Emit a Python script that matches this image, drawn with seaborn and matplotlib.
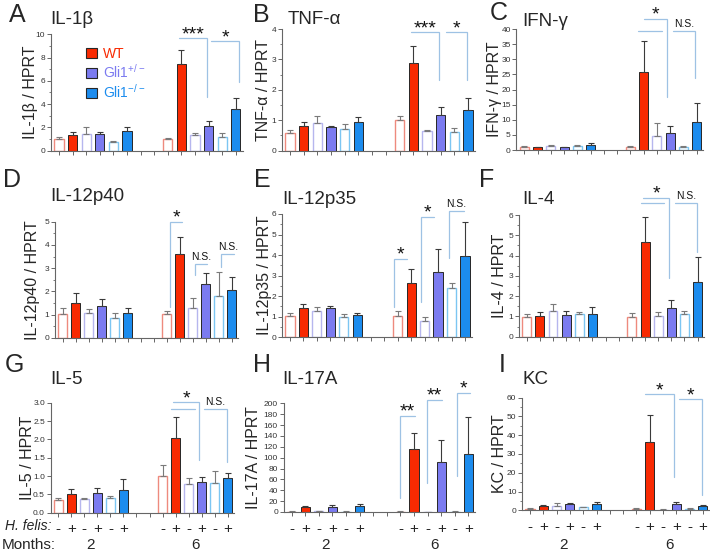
import numpy as np
import pandas as pd
import matplotlib
matplotlib.use('Agg')
import matplotlib.pyplot as plt
import matplotlib.transforms as mtransforms
from matplotlib.patches import Patch
from matplotlib.ticker import MultipleLocator, FormatStrFormatter
import seaborn as sns

sns.set_style('ticks')
plt.rcParams['font.family'] = ['Liberation Sans', 'DejaVu Sans']
plt.rcParams['mathtext.default'] = 'regular'

W, H = 710, 554

# ---------------- data ----------------
genotypes = ['WT', 'WT', 'Gli1+/-', 'Gli1+/-', 'Gli1-/-', 'Gli1-/-'] * 2
felis = ['-', '+'] * 6
months = [2] * 6 + [6] * 6
positions = [0, 1, 2, 3, 4, 5, 8, 9, 10, 11, 12, 13]
tick_positions = list(range(14))
felis_tick_labels = ['-', '+', '-', '+', '-', '+', '', '', '-', '+', '-', '+', '-', '+']
month_labels = ['2', '6']

il1b_mean = [0.97, 1.35, 1.40, 1.43, 0.77, 1.69, 0.97, 7.45, 1.32, 2.15, 1.15, 3.55]
il1b_err = [0.23, 0.23, 0.66, 0.20, 0.09, 0.37, 0.15, 1.20, 0.17, 0.43, 0.34, 0.95]

tnfa_mean = [0.59, 0.82, 0.92, 0.79, 0.70, 0.94, 1.01, 2.87, 0.65, 1.17, 0.61, 1.34]
tnfa_err = [0.09, 0.13, 0.23, 0.03, 0.17, 0.18, 0.14, 0.57, 0.03, 0.28, 0.12, 0.38]

ifng_mean = [1.1, 0.9, 1.3, 0.9, 1.3, 1.5, 1.1, 25.7, 4.7, 5.5, 1.0, 9.4]
ifng_err = [0.3, 0.2, 0.2, 0.1, 0.2, 0.7, 0.2, 10.4, 4.1, 2.5, 0.3, 6.2]

il12p40_mean = [1.02, 1.51, 1.05, 1.36, 0.83, 1.05, 1.02, 3.62, 1.29, 2.30, 1.81, 2.05]
il12p40_err = [0.24, 0.43, 0.17, 0.29, 0.22, 0.21, 0.13, 0.70, 0.41, 0.50, 1.03, 0.55]

il12p35_mean = [1.04, 1.44, 1.28, 1.41, 1.00, 1.09, 1.04, 2.63, 0.81, 3.19, 2.38, 3.95]
il12p35_err = [0.13, 0.18, 0.18, 0.11, 0.12, 0.11, 0.24, 0.68, 0.16, 1.09, 0.25, 1.67]

il4_mean = [0.99, 1.02, 1.28, 1.07, 1.10, 1.10, 0.99, 4.69, 1.02, 1.40, 1.10, 2.71]
il4_err = [0.11, 0.18, 0.32, 0.21, 0.13, 0.38, 0.16, 1.23, 0.18, 0.41, 0.17, 1.20]

il5_mean = [0.35, 0.51, 0.37, 0.55, 0.41, 0.62, 1.00, 2.05, 0.77, 0.83, 0.80, 0.95]
il5_err = [0.04, 0.13, 0.04, 0.13, 0.05, 0.29, 0.29, 0.55, 0.17, 0.15, 0.34, 0.12]

il17a_mean = [0.5, 8.6, 1.2, 9.2, 0.7, 11.0, 0.8, 116.0, 0.5, 91.4, 0.7, 107.0]
il17a_err = [0.5, 2.4, 0.3, 3.7, 0.3, 3.0, 0.2, 30.0, 0.3, 41.0, 0.3, 67.0]

kc_mean = [0.7, 2.5, 2.5, 3.2, 1.6, 3.4, 0.7, 36.6, 0.3, 3.6, 0.7, 2.3]
kc_err = [0.4, 0.3, 1.2, 0.5, 0.4, 0.9, 0.4, 14.4, 0.2, 1.0, 0.5, 0.4]

# ---------------- styles ----------------
dark_pal = {'WT': '#F82A02', 'Gli1+/-': '#7B7BF0', 'Gli1-/-': '#1C8CEE'}
light_pal = {'WT': '#EE8A7E', 'Gli1+/-': '#B6B6EE', 'Gli1-/-': '#7CC6F2'}
legend_text_col = {'WT': '#F82A02', 'Gli1+/-': '#7B7BF0', 'Gli1-/-': '#1C8CEE'}
bracket_col = '#9EC2E4'
XLIM = (-0.6, 13.5)


def box(l, t, r, b):
    return [l / W, 1 - b / H, (r - l) / W, (b - t) / H]


panels = [
    dict(letter='A', title='IL-1β', ylabel='IL-1β / HPRT', mean=il1b_mean, err=il1b_err,
         ymax=10, major=2, minor=1, fmt='%d', bx=(50.8, 34.3, 242.6, 150.7),
         letter_xy=(17, 15), title_xy=(50, 20), ylab_x=30,
         brackets=[(8.8, 10.9, 9.64, 9.64, 4.64, '***'), (11.2, 13.25, 9.4, 9.4, 5.9, '*')]),
    dict(letter='B', title='TNF-α', ylabel='TNF-α / HPRT', mean=tnfa_mean, err=tnfa_err,
         ymax=4, major=1, minor=0.5, fmt='%d', bx=(281.8, 29, 474.9, 150.7),
         letter_xy=(261, 15), title_xy=(288, 20), ylab_x=264,
         brackets=[(8.8, 10.9, 3.89, 3.89, 2.33, '***'), (11.4, 12.9, 3.89, 3.89, 2.33, '*')]),
    dict(letter='C', title='IFN-γ', ylabel='IFN-γ / HPRT', mean=ifng_mean, err=ifng_err,
         ymax=40, major=5, minor=None, fmt='%d', bx=(516.3, 29, 703.3, 150),
         letter_xy=(499, 13), title_xy=(522, 22), ylab_x=494,
         brackets=[(9.0, 10.75, 43.3, 43.3, 17.6, '*'), (8.55, 10.4, 39.4, 39.4, 39.4, ''),
                   (11.2, 12.9, 39.4, 39.4, 23.7, 'N.S.')]),
    dict(letter='D', title='IL-12p40', ylabel='IL-12p40 / HPRT', mean=il12p40_mean, err=il12p40_err,
         ymax=5, major=1, minor=0.5, fmt='%d', bx=(54.9, 221.7, 238.2, 337.7),
         letter_xy=(12, 180), title_xy=(50, 197), ylab_x=32,
         brackets=[(8.25, 9.2, 5.0, 1.34, 5.0, '*'), (10.2, 11.1, 3.16, 2.7, 3.16, 'N.S.'),
                   (12.2, 13.2, 3.59, 3.06, 3.59, 'N.S.')]),
    dict(letter='E', title='IL-12p35', ylabel='IL-12p35 / HPRT', mean=il12p35_mean, err=il12p35_err,
         ymax=6, major=1, minor=0.5, fmt='%d', bx=(281.9, 214, 471.7, 337.3),
         letter_xy=(262, 180), title_xy=(282, 199), ylab_x=264,
         brackets=[(7.7, 8.7, 3.81, 1.49, 3.81, '*'), (9.75, 10.7, 5.87, 1.73, 5.87, '*'),
                   (11.8, 12.9, 6.14, 3.84, 6.14, 'N.S.')]),
    dict(letter='F', title='IL-4', ylabel='IL-4 / HPRT', mean=il4_mean, err=il4_err,
         ymax=6, major=1, minor=0.5, fmt='%d', bx=(518.8, 215, 704.2, 336.7),
         letter_xy=(487, 180), title_xy=(522, 199), ylab_x=500,
         brackets=[(8.86, 10.84, 6.83, 6.83, 2.88, '*'), (8.66, 10.46, 6.58, 6.58, 6.58, ''),
                   (11.27, 12.99, 6.58, 6.58, 4.19, 'N.S.')]),
    dict(letter='G', title='IL-5', ylabel='IL-5 / HPRT', mean=il5_mean, err=il5_err,
         ymax=3, major=0.5, minor=None, fmt='%.1f', bx=(50.5, 402.7, 234.2, 512.7),
         letter_xy=(14, 365), title_xy=(50, 380), ylab_x=27,
         brackets=[(8.82, 10.82, 3.01, 3.01, 1.44, '*'), (8.62, 10.49, 2.82, 2.82, 2.82, ''),
                   (11.18, 12.92, 2.82, 2.82, 1.39, 'N.S.')]),
    dict(letter='H', title='IL-17A', ylabel='IL-17A / HPRT', mean=il17a_mean, err=il17a_err,
         ymax=200, major=20, minor=None, fmt='%d', bx=(283.5, 403.3, 475.3, 512),
         letter_xy=(262, 365), title_xy=(282, 380), ylab_x=254,
         brackets=[(7.97, 9.07, 176.7, 25, 176.7, '**'), (9.93, 11.03, 206, 52.8, 206, '**'),
                   (12.13, 13.11, 219.6, 66, 219.6, '*')]),
    dict(letter='I', title='KC', ylabel='KC / HPRT', mean=kc_mean, err=kc_err,
         ymax=60, major=10, minor=5, fmt='%d', bx=(522, 397.7, 709.6, 510.3),
         letter_xy=(502, 365), title_xy=(522, 380), ylab_x=500,
         brackets=[(8.63, 10.8, 61.8, 61.8, 17.9, '*'), (11.2, 12.9, 59.1, 59.1, 8.2, '*')]),
]

fig = plt.figure(figsize=(W / 100, H / 100), dpi=100)


def draw_bracket(ax, x1, x2, y, y1, y2, label):
    ax.plot([x1, x1, x2, x2], [y1, y, y, y2], color=bracket_col, lw=0.9,
            clip_on=False, solid_joinstyle='miter', zorder=5)
    if label:
        star = '*' in label
        ax.annotate(label, ((x1 + x2) / 2, y), xytext=(0, -0.5 if star else 3.0),
                    textcoords='offset points', ha='center', va='baseline',
                    fontsize=14 if star else 7.5, color='#111', annotation_clip=False)


for idx, p in enumerate(panels):
    l, t, r, b = p['bx']
    ax = fig.add_axes(box(l, t, r, b))
    df = pd.DataFrame({'pos': positions, 'value': p['mean'], 'err': p['err'],
                       'genotype': genotypes, 'felis': felis, 'months': months})
    for flag, filled in (('-', False), ('+', True)):
        sub = df[df['felis'] == flag]
        step = np.diff(np.sort(sub['pos'].unique())).min()
        kws = dict(data=sub, x='pos', y='value', hue='genotype', native_scale=True,
                   width=0.68 / step, errorbar=None, legend=False, saturation=1, ax=ax)
        if filled:
            sns.barplot(palette=dark_pal, fill=True, edgecolor='#262626', linewidth=0.7, **kws)
        else:
            sns.barplot(palette=light_pal, fill=False, linewidth=1.0, **kws)
        ecol = '#3a3a3a' if filled else '#7a7a7a'
        ax.errorbar(sub['pos'], sub['value'], yerr=[np.zeros(len(sub)), sub['err']],
                    fmt='none', ecolor=ecol, elinewidth=0.8, capsize=2.2, capthick=0.8, zorder=1)

    ax.set_xlim(*XLIM)
    ax.set_ylim(0, p['ymax'])
    ax.yaxis.set_major_locator(MultipleLocator(p['major']))
    if p['minor']:
        ax.yaxis.set_minor_locator(MultipleLocator(p['minor']))
    ax.yaxis.set_major_formatter(FormatStrFormatter(p['fmt']))
    ax.set_xticks(tick_positions)
    bottom_row = idx >= 6
    if bottom_row:
        ax.set_xticklabels(felis_tick_labels, fontsize=11)
    else:
        ax.set_xticklabels([])
    ax.tick_params(axis='x', length=3, width=0.7, color='#666', pad=4)
    ax.tick_params(axis='y', which='major', length=3, width=0.7, color='#666',
                   labelsize=6, labelcolor='#333', pad=1)
    ax.tick_params(axis='y', which='minor', length=1.8, width=0.6, color='#666')
    for s in ('top', 'right'):
        ax.spines[s].set_visible(False)
    for s in ('left', 'bottom'):
        ax.spines[s].set_color('#666')
        ax.spines[s].set_linewidth(0.8)
    ax.set_xlabel('')
    ax.set_ylabel(p['ylabel'], fontsize=11.5, va='center')
    ax.yaxis.set_label_coords((p['ylab_x'] - l) / (r - l), 0.5)

    for br in p['brackets']:
        draw_bracket(ax, *br)

    lx, ly = p['letter_xy']
    fig.text(lx / W, 1 - ly / H, p['letter'], fontsize=18, ha='center', va='center')
    tx, ty = p['title_xy']
    fig.text(tx / W, 1 - ty / H, p['title'], fontsize=13.5, ha='left', va='center')

    if bottom_row:
        tr = mtransforms.blended_transform_factory(ax.transData, fig.transFigure)
        ax.text(2.5, 1 - 545 / H, month_labels[0], transform=tr, fontsize=11,
                ha='center', va='center')
        ax.text(10.5, 1 - 545 / H, month_labels[1], transform=tr, fontsize=11,
                ha='center', va='center')

    if idx == 0:
        names = ['WT', 'Gli1+/-', 'Gli1-/-']
        labels = ['WT', 'Gli1$^{+/-}$', 'Gli1$^{-/-}$']
        handles = [Patch(facecolor=dark_pal[n], edgecolor='#262626', linewidth=0.8) for n in names]
        ax.legend(handles, labels, loc='upper left', bbox_to_anchor=(86 / W, 1 - 47 / H),
                  bbox_transform=fig.transFigure, frameon=False, fontsize=10,
                  handlelength=0.8, handleheight=0.65, handletextpad=0.4,
                  labelspacing=0.15, borderpad=0, borderaxespad=0,
                  labelcolor=[legend_text_col[n] for n in names])

fig.text(5 / W, 1 - 526 / H, 'H. felis:', fontsize=10, style='italic', ha='left', va='center')
fig.text(2 / W, 1 - 545 / H, 'Months:', fontsize=11, ha='left', va='center')

fig.savefig('out.png', dpi=100)
